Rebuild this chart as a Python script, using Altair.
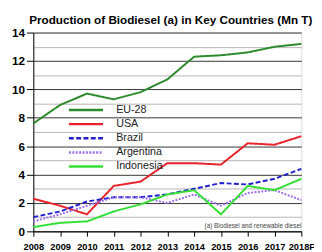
import altair as alt
import pandas as pd

years = ["2008", "2009", "2010", "2011", "2012", "2013", "2014", "2015", "2016", "2017", "2018F"]
eu28 = [7.6, 8.9, 9.7, 9.3, 9.8, 10.7, 12.3, 12.4, 12.6, 13.0, 13.2]
usa = [2.3, 1.8, 1.2, 3.2, 3.5, 4.8, 4.8, 4.7, 6.2, 6.1, 6.7]
brazil = [1.0, 1.4, 2.1, 2.4, 2.4, 2.6, 3.0, 3.4, 3.3, 3.7, 4.4]
argentina = [0.7, 1.2, 1.8, 2.4, 2.4, 2.0, 2.6, 1.8, 2.7, 2.9, 2.2]
indonesia = [0.3, 0.6, 0.7, 1.4, 1.9, 2.6, 2.9, 1.2, 3.2, 2.9, 3.7]

series_names = ["EU-28", "USA", "Brazil", "Argentina", "Indonesia"]
series_vals = [eu28, usa, brazil, argentina, indonesia]
colors = ["#2b8a2b", "#e8222a", "#2020cc", "#9a6cf0", "#33e033"]
dashes = [[1, 0], [1, 0], [5, 2.5], [2, 1.5], [1, 0]]

title_text = "Production of Biodiesel (a) in Key Countries (Mn T)"
note_text = "(a) Biodiesel and renewable diesel"

rows = []
for name, vals in zip(series_names, series_vals):
    for y, v in zip(years, vals):
        rows.append({"Year": y, "Value": v, "Country": name})
df = pd.DataFrame(rows)

FONT = "Liberation Sans"

lines = alt.Chart(df).mark_line(strokeWidth=2).encode(
    x=alt.X("Year:N", sort=years,
            scale=alt.Scale(type="point", padding=0),
            axis=alt.Axis(title=None, labelAngle=0, labelFont=FONT, labelFontSize=9.5,
                          labelFontWeight="bold", labelColor="#000", domainColor="#000",
                          tickColor="#000", tickSize=5, labelPadding=6, grid=False)),
    y=alt.Y("Value:Q", scale=alt.Scale(domain=[0, 14], nice=False),
            axis=alt.Axis(title=None, values=list(range(0, 15)),
                          labelExpr="datum.value % 2 == 0 ? datum.label : ''",
                          labelFont=FONT, labelFontSize=12, labelFontWeight="bold",
                          labelColor="#000", domainColor="#000",
                          tickColor={"condition": {"test": "datum.value % 2 == 1", "value": "transparent"}, "value": "#000"},
                          tickSize=7, labelPadding=2,
                          gridColor={"condition": {"test": "datum.value % 2 == 1", "value": "#b4b4b4"}, "value": "#333"},
                          gridWidth=1)),
    color=alt.Color("Country:N", sort=series_names,
                    scale=alt.Scale(domain=series_names, range=colors),
                    legend=alt.Legend(title=None, orient="none", legendX=45.5, legendY=71,
                                      symbolType="M-2.5,0H2.5", symbolSize=196, symbolStrokeWidth=2.5,
                                      labelFont=FONT, labelFontSize=11, labelColor="#222",
                                      rowPadding=0.5, labelOffset=22.5, padding=0)),
    strokeDash=alt.StrokeDash("Country:N", sort=series_names,
                              scale=alt.Scale(domain=series_names, range=dashes),
                              legend=None),
    order=alt.Order("Country:N"),
)

note = alt.Chart(pd.DataFrame({"t": [note_text]})).mark_text(
    align="right", baseline="alphabetic", font=FONT, fontSize=6.5, color="#444"
).encode(x=alt.value(275), y=alt.value(201), text="t:N")

title = alt.Chart(pd.DataFrame({"t": [title_text]})).mark_text(
    align="center", baseline="alphabetic", font=FONT, fontSize=12, fontWeight="bold", color="#000"
).encode(x=alt.value(141), y=alt.value(-9), text="t:N")

chart = alt.layer(lines, note, title).properties(
    width=275, height=204,
    autosize=alt.AutoSizeParams(type="none"),
    padding={"left": 26, "top": 22, "right": 13, "bottom": 18},
).configure_view(stroke=None).configure(background="white")

chart.save("out.html", embed_options={"renderer": "svg", "actions": False})
